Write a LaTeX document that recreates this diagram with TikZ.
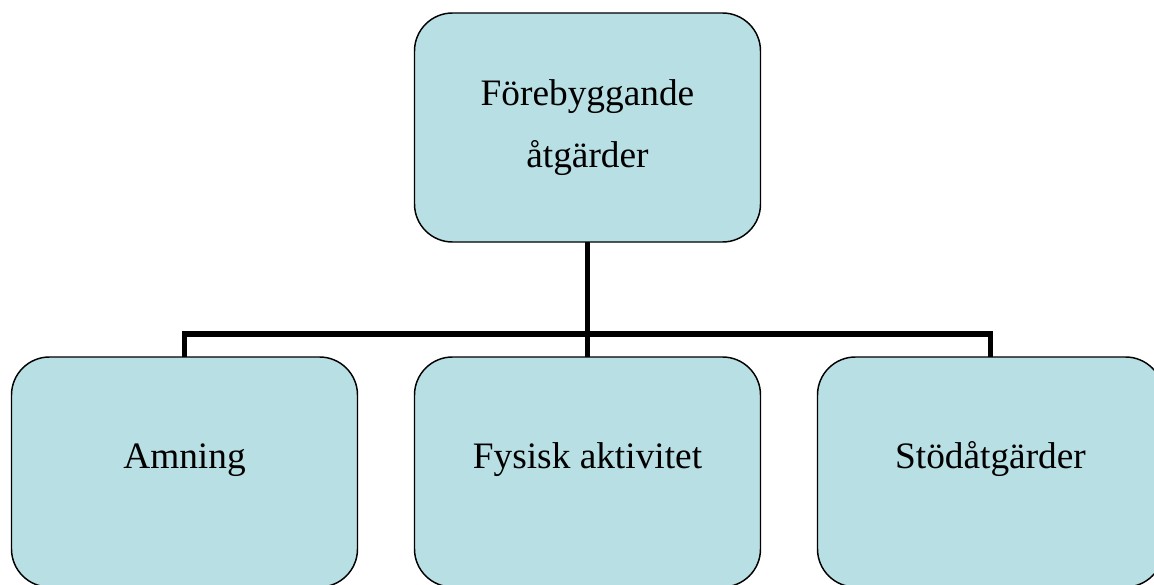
\documentclass[tikz,border=0pt]{standalone}
\usepackage{fontspec}
\setmainfont{Liberation Serif}
\usepackage{xcolor}
\usepackage{tikz}
\usetikzlibrary{positioning}
\definecolor{boxcyan}{HTML}{B8DFE3}

\begin{document}
\begin{tikzpicture}[
  x=0.75pt, y=-0.75pt,
  box/.style={draw=black, line width=1.1pt, fill=boxcyan, rounded corners=28.5pt,
              minimum width=259.5pt, outer sep=0pt, align=center,
              font=\fontsize{28}{46.5}\selectfont},
  topbox/.style={box, minimum height=171.75pt},
  leaf/.style={box, inner ysep=0pt, text height=83.25pt, text depth=89.25pt},
  link/.style={draw=black, line width=4.1pt}]
\useasboundingbox (0,0) rectangle (1154,585);
\clip (0,0) rectangle (1154,585);
\node[topbox] (prev) at (587.5,127.5) {Förebyggande\\åtgärder};
\node[leaf, below=86.25pt of prev] (fys) {Fysisk aktivitet};
\node[leaf, left=42.75pt of fys] (amn) {Amning};
\node[leaf, right=42.75pt of fys] (stod) {Stödåtgärder};
\path (prev.south) ++(0,92) coordinate (bar);
\draw[link] (prev.south) -- (bar);
\draw[link] (amn.north) |- (bar) -| (stod.north);
\draw[link] (bar) -- (fys.north);
\end{tikzpicture}
\end{document}
